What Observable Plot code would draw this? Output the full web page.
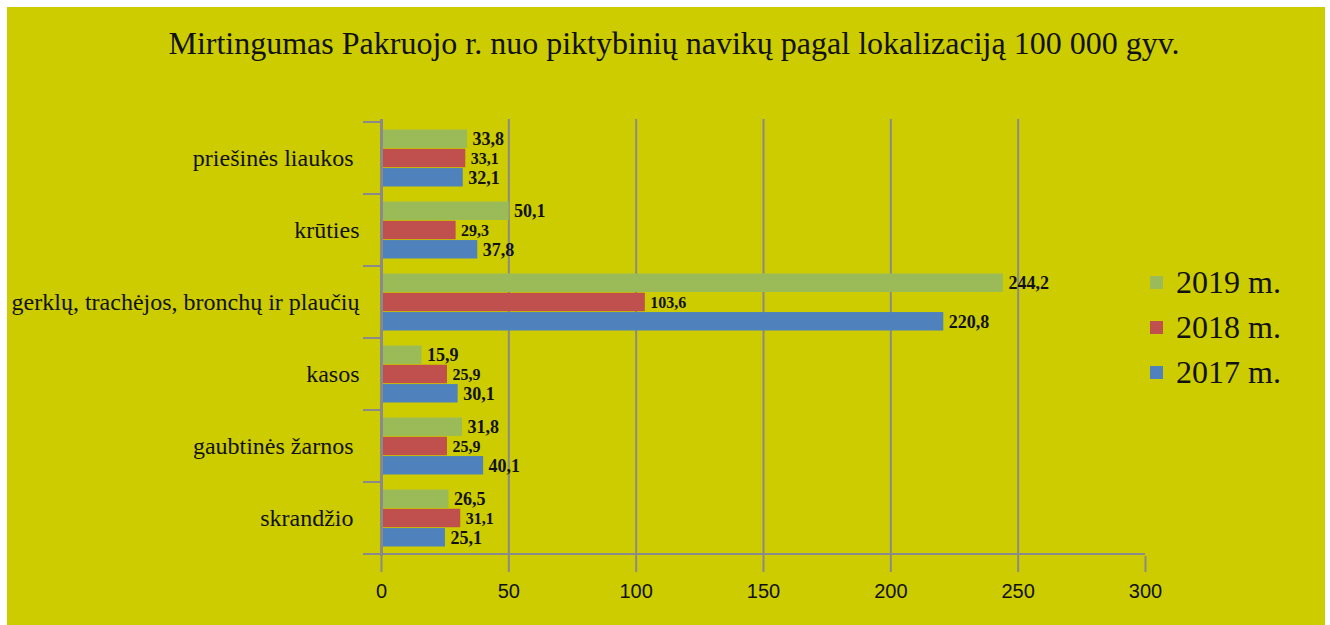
<!DOCTYPE html>
<html>
<head>
<meta charset="utf-8">
<script src="https://cdn.jsdelivr.net/npm/d3@7"></script>
<script src="https://cdn.jsdelivr.net/npm/@observablehq/plot@0.6"></script>
<style>
  html, body { margin: 0; padding: 0; background: #ffffff; }
  #wrap { position: absolute; left: 7px; top: 7px; width: 1318px; height: 618px; background: #cccc00; overflow: hidden; }
  #title { position: absolute; left: 0; width: 1334px; top: 18px; text-align: center; font-family: "Liberation Serif", "Times New Roman", serif; font-size: 32px; color: #111; white-space: nowrap; }
  #chart { position: absolute; left: 0; top: 0; }
  #legend { position: absolute; left: 1143px; top: 253px; font-family: "Liberation Serif", "Times New Roman", serif; font-size: 32px; color: #111; }
  .li { display: flex; align-items: center; height: 45px; }
  .sw { width: 13px; height: 13px; margin-right: 13px; }
</style>
</head>
<body>
<div id="wrap">
  <div id="title"></div>
  <div id="chart"></div>
  <div id="legend"></div>
</div>
<script>
const titleText = "Mirtingumas Pakruojo r. nuo piktybinių navikų pagal lokalizaciją 100 000 gyv.";
const categories = ["priešinės liaukos ", "krūties", "gerklų, trachėjos, bronchų ir plaučių", "kasos", "gaubtinės žarnos ", "skrandžio "];
const series = ["2019 m.", "2018 m.", "2017 m."];
const values2019 = [33.8, 50.1, 244.2, 15.9, 31.8, 26.5];
const values2018 = [33.1, 29.3, 103.6, 25.9, 25.9, 31.1];
const values2017 = [32.1, 37.8, 220.8, 30.1, 40.1, 25.1];
const xTicks = [0, 50, 100, 150, 200, 250, 300];
const gridTicks = [50, 100, 150, 200, 250];
const colors = ["#9bbb59", "#c0504d", "#4f81bd"];

const seriesValues = [values2019, values2018, values2017];
const rows = [];
series.forEach((s, si) => categories.forEach((c, ci) => rows.push({category: c, series: s, si, value: seriesValues[si][ci]})));

document.getElementById("title").textContent = titleText;

const W = 1318, H = 618;
const mL = 374, mR = 180, mT = 112, mB = 69;
const band = (H - mT - mB) / categories.length;
const pad = 7.5;
const barH = (band - 2 * pad) / series.length;

const fmt = v => v.toFixed(1).replace(".", ",");
const serif = "'Liberation Serif', 'Times New Roman', serif";

const barMarks = series.map((s, si) => Plot.barX(rows.filter(r => r.si === si), {
  x: "value", y: "category", fill: colors[si],
  insetTop: pad + si * barH,
  insetBottom: band - pad - (si + 1) * barH
}));
const labelMarks = series.map((s, si) => Plot.text(rows.filter(r => r.si === si), {
  x: "value", y: "category", text: d => fmt(d.value),
  dx: 5, dy: (pad + (si + 0.5) * barH) - band / 2,
  textAnchor: "start", fontWeight: "bold", fontFamily: serif,
  fontSize: si === 1 ? 16 : 18, fill: "#111"
}));

const plot = Plot.plot({
  width: W, height: H,
  marginLeft: mL, marginRight: mR, marginTop: mT, marginBottom: mB,
  style: {background: "transparent", color: "#111", overflow: "visible"},
  x: {domain: [0, 300], axis: null, label: null},
  y: {domain: categories, padding: 0, axis: null, label: null},
  marks: [
    Plot.ruleX(gridTicks, {stroke: "#8a8a8a", strokeWidth: 2}),
    ...barMarks,
    Plot.ruleX([0], {stroke: "#8a8a8a", strokeWidth: 3}),
    Plot.axisX({ticks: xTicks, tickSize: 16, tickPadding: 11, stroke: "#8a8a8a", strokeWidth: 2, label: null,
      fontSize: 20, fontFamily: "'Liberation Sans', Arial, sans-serif", tickFormat: d => String(d)}),
    Plot.axisY({tickSize: 0, tickPadding: 22, fontSize: 24, fontFamily: serif, label: null,
      tickFormat: d => d.replace(/ $/, "\u00a0")}),
    ...labelMarks
  ]
});

// category boundary ticks and baseline using the plot's scales
const xs = plot.scale("x"), ys = plot.scale("y");
const x0 = xs.apply(0), xEnd = xs.apply(300);
const g = d3.select(plot).append("g").attr("stroke", "#8a8a8a").attr("stroke-width", 2);
categories.forEach(c => {
  const yy = ys.apply(c);
  g.append("line").attr("x1", x0 - 18).attr("x2", x0).attr("y1", yy).attr("y2", yy);
});
const yBottom = ys.apply(categories[categories.length - 1]) + ys.bandwidth;
g.append("line").attr("x1", x0 - 18).attr("x2", xEnd).attr("y1", yBottom).attr("y2", yBottom);

document.getElementById("chart").appendChild(plot);

const legend = document.getElementById("legend");
series.forEach((s, si) => {
  const row = document.createElement("div");
  row.className = "li";
  const sw = document.createElement("div");
  sw.className = "sw";
  sw.style.background = colors[si];
  const t = document.createElement("span");
  t.textContent = s;
  row.appendChild(sw); row.appendChild(t);
  legend.appendChild(row);
});
</script>
</body>
</html>
